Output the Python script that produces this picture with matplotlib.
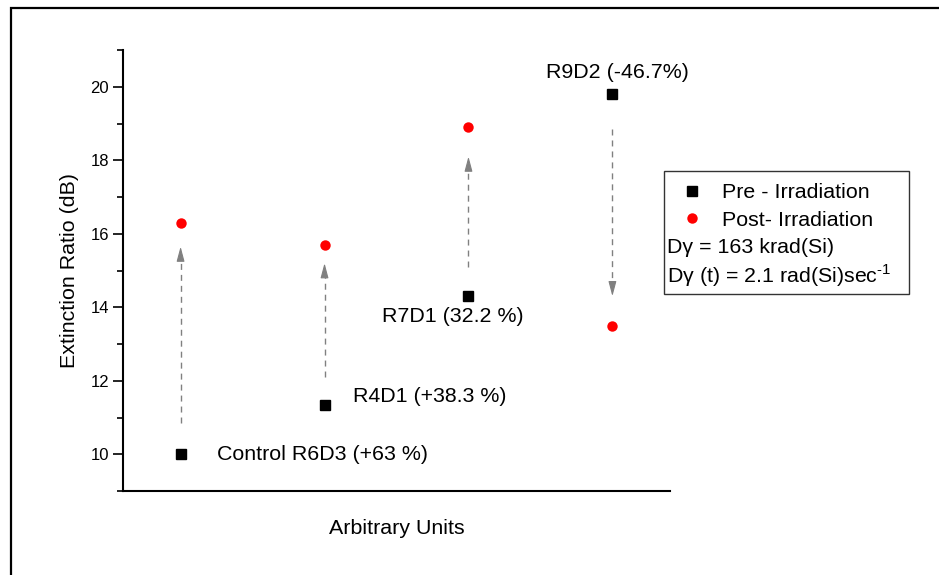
import matplotlib
matplotlib.use("Agg")
import matplotlib.pyplot as plt
from matplotlib.patches import Rectangle
from matplotlib.ticker import MultipleLocator, NullLocator

plt.rcParams['font.family'] = ['Liberation Sans', 'DejaVu Sans']
plt.rcParams['mathtext.fontset'] = 'custom'
plt.rcParams['mathtext.rm'] = 'Liberation Sans'

# samples along the (arbitrary) x axis
sample_x = [1, 2, 3, 4]
pre_irr = [10.0, 11.35, 14.3, 19.8]
post_irr = [16.3, 15.7, 18.9, 13.5]

# dashed arrows: (x, tail y, head y)
arrow_x = [1, 2, 3, 4]
arrow_tail = [10.85, 12.1, 15.1, 18.85]
arrow_head = [15.65, 15.2, 18.1, 14.3]

labels = ["Control R6D3 (+63 %)", "R4D1 (+38.3 %)", "R7D1 (32.2 %)", "R9D2 (-46.7%)"]
label_x = [1.25, 2.20, 2.40, 3.54]
label_y = [10.0, 11.56, 13.75, 20.38]

FS = 15.4
HEAD = 0.3  # arrow head length in data units
W, H = 939, 575
fig = plt.figure(figsize=(W / 100, H / 100), dpi=100)
ax = fig.add_axes([123 / W, 1 - 491 / H, (670 - 123) / W, (491 - 50) / H])

# outer frame, runs off the right and bottom edges
fig.add_artist(Rectangle((11 / W, -0.1), 1.2, 1 - 8 / H + 0.1, transform=fig.transFigure,
                         fill=False, edgecolor='black', linewidth=1.6))

for xa, t, h in zip(arrow_x, arrow_tail, arrow_head):
    d = 1 if h > t else -1
    ax.plot([xa, xa], [t, h - d * HEAD], color='#808080', lw=1.0,
            linestyle=(0, (4.3, 3.6)))
    ax.annotate("", xy=(xa, h), xytext=(xa, h - d * HEAD),
                arrowprops=dict(arrowstyle='-|>,head_length=0.45,head_width=0.12',
                                color='#808080', lw=0.8, mutation_scale=20,
                                shrinkA=0, shrinkB=0))

pre, = ax.plot(sample_x, pre_irr, 's', color='black', markersize=6.5, linestyle='none',
               label='Pre - Irradiation')
post, = ax.plot(sample_x, post_irr, 'o', color='red', markersize=7.5, markeredgewidth=0,
                linestyle='none', label='Post- Irradiation')

for lx, ly, s in zip(label_x, label_y, labels):
    ax.text(lx, ly, s, fontsize=FS, va='center', ha='left')

ax.set_xlim(0.6, 4.4)
ax.set_ylim(9, 21)
ax.yaxis.set_major_locator(MultipleLocator(2))
ax.yaxis.set_minor_locator(MultipleLocator(1))
ax.xaxis.set_major_locator(NullLocator())
ax.set_yticks([10, 12, 14, 16, 18, 20])
ax.tick_params(axis='y', which='major', length=7, width=1.2, labelsize=12, pad=3)
ax.tick_params(axis='y', which='minor', length=4, width=1.2)
for side in ['top', 'right']:
    ax.spines[side].set_visible(False)
for side in ['left', 'bottom']:
    ax.spines[side].set_linewidth(1.5)

ax.set_ylabel("Extinction Ratio (dB)", fontsize=FS, labelpad=8)
ax.set_xlabel("Arbitrary Units", fontsize=FS, labelpad=20)

# legend box with the dose notes
fig.add_artist(Rectangle((664 / W, 1 - 294.3 / H), (909.3 - 664) / W, (294.3 - 170.7) / H,
                         transform=fig.transFigure, fill=False, edgecolor='#333333',
                         linewidth=1.0))
fig.legend(handles=[pre, post], loc='upper left', bbox_to_anchor=(681 / W, 1 - 183 / H),
           frameon=False, fontsize=FS, handlelength=1.0, handletextpad=0.92,
           borderpad=0, borderaxespad=0, labelspacing=0.42, numpoints=1)
fig.text(667 / W, 1 - 247.7 / H, "Dγ = 163 krad(Si)", fontsize=FS, va='center', ha='left')
fig.text(667 / W, 1 - 276 / H, r"Dγ (t) = 2.1 rad(Si)sec$^{\text{-1}}$", fontsize=FS,
         va='center', ha='left')

fig.savefig("out.png", dpi=100)
